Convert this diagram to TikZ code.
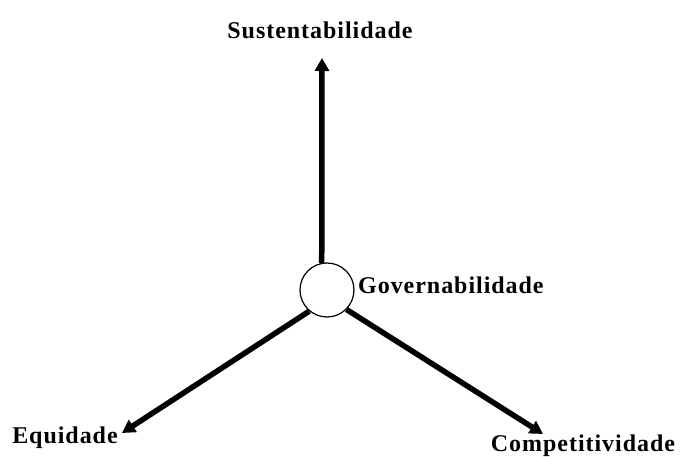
\documentclass[tikz,border=0pt]{standalone}
\usepackage{fontspec}
\setmainfont{Liberation Serif}
\newfontfamily\lblfont[LetterSpace=4]{Liberation Serif}
\usetikzlibrary{arrows.meta}
\begin{document}
\begin{tikzpicture}[x=1pt,y=-1pt,
  lbl/.style={font=\lblfont\fontsize{24}{28}\selectfont\bfseries, inner sep=0pt},
  axis/.style={line width=5.5pt, -{Triangle[length=13pt,width=14pt]}}]
\useasboundingbox (0,0) rectangle (681,457);
\node[circle, draw, line width=1.2pt, minimum size=54pt, inner sep=0pt] (g) at (327,290) {};
\node[lbl, anchor=west] (gov) at (358,285) {Governabilidade};
\node[lbl] (sus) at (320,30) {Sustentabilidade};
\node[lbl] (equ) at (65,438) {Equidade};
\node[lbl] (com) at (583,446) {Competitividade};
\coordinate (ts) at (322,58);
\coordinate (te) at (122,433);
\coordinate (tc) at (543,434);
\draw[axis] (g.101) -- (ts);
\draw[axis] (g.230) -- (te);
\draw[axis] (g.315) -- (tc);
\end{tikzpicture}
\end{document}
